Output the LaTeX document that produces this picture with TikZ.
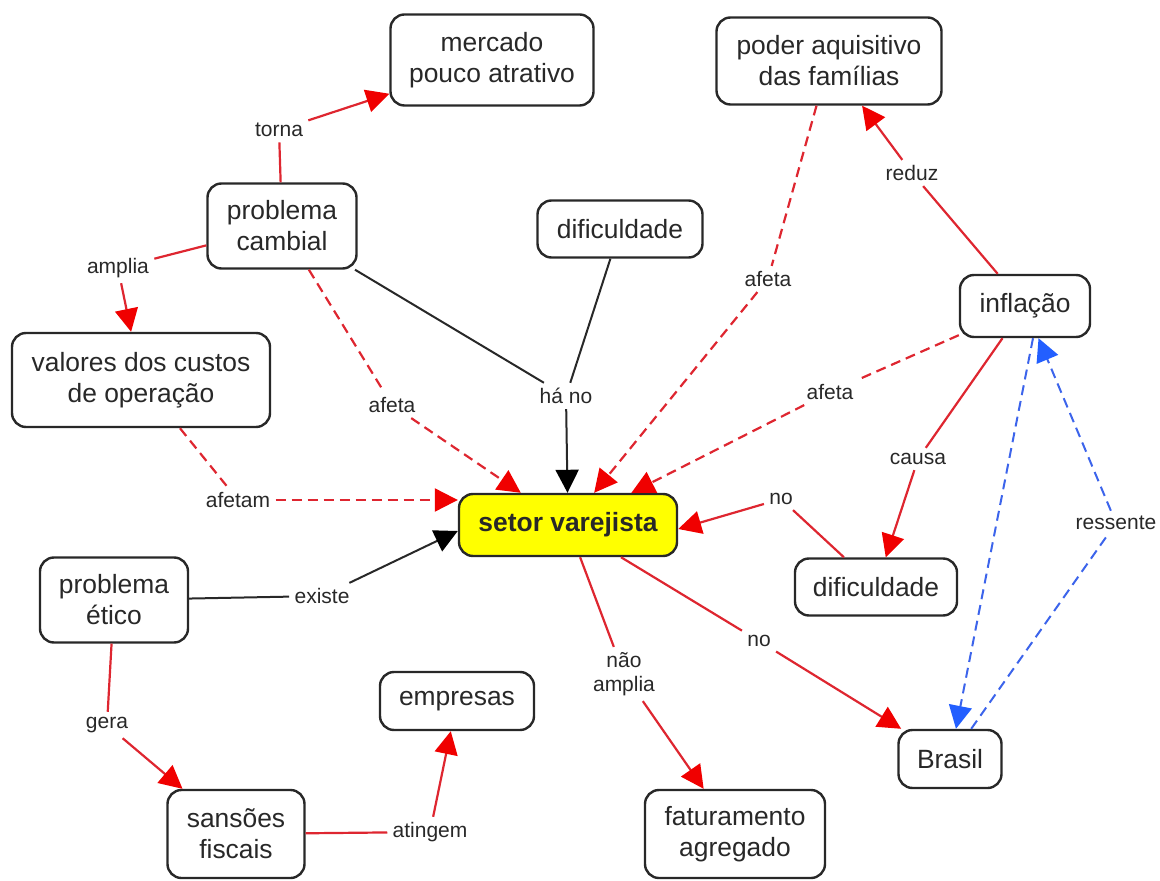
\documentclass[tikz,border=0pt]{standalone}
\usepackage{fontspec}
\setmainfont{Liberation Sans}
\usetikzlibrary{arrows.meta}
\definecolor{lnred}{RGB}{222,38,48}
\definecolor{tipred}{RGB}{240,0,0}
\definecolor{lnblue}{RGB}{60,100,235}
\definecolor{tipblue}{RGB}{35,95,255}
\definecolor{ink}{RGB}{40,40,40}
\definecolor{hilite}{RGB}{255,255,0}
\begin{document}
\begin{tikzpicture}[x=0.5pt,y=-0.5pt,
  concept/.style={draw=ink, line width=1.2pt, rounded corners=7pt, fill=white, align=center,
    inner sep=0pt, font=\fontsize{13.2}{15.5}\selectfont, text=ink},
  phrase/.style={font=\fontsize{10.5}{12}\selectfont, text=ink, inner sep=2.5pt, align=center},
  rl/.style={draw=lnred, line width=1.1pt},
  rarr/.style={rl, -{Triangle[length=11.5pt,width=11.5pt,color=tipred]}},
  rdl/.style={rl, dash pattern=on 5pt off 3pt},
  rdarr/.style={rdl, -{Triangle[length=11.5pt,width=11.5pt,color=tipred]}},
  kl/.style={draw=ink, line width=1pt},
  karr/.style={kl, -{Triangle[length=11.5pt,width=11.5pt,color=black]}},
  bdarr/.style={draw=lnblue, line width=1pt, dash pattern=on 5pt off 3pt, -{Triangle[length=11.5pt,width=11.5pt,color=tipblue]}},
  bdl/.style={draw=lnblue, line width=1pt, dash pattern=on 5pt off 3pt}
]
\useasboundingbox (0,0) rectangle (1160,881);

% concepts
\node[concept, minimum width=101.5pt, minimum height=45.5pt] (mercado) at (492,60) {mercado\\pouco atrativo};
\node[concept, minimum width=112.5pt, minimum height=43.5pt] (poder) at (829,61) {poder aquisitivo\\das famílias};
\node[concept, minimum width=74.5pt, minimum height=42.5pt] (cambial) at (282,226) {problema\\cambial};
\node[concept, minimum width=82.5pt, minimum height=28.5pt] (dificA) at (620,229) {dificuldade};
\node[concept, minimum width=65pt, minimum height=31pt] (inflacao) at (1025,306) {inflação};
\node[concept, minimum width=129pt, minimum height=47pt] (valores) at (141,380) {valores dos custos\\de operação};
\node[concept, minimum width=109pt, minimum height=31pt, fill=hilite, font=\fontsize{13.2}{15.5}\selectfont\bfseries] (setor) at (568,525) {setor varejista};
\node[concept, minimum width=81pt, minimum height=28.5pt] (dificB) at (876,587) {dificuldade};
\node[concept, minimum width=74pt, minimum height=42.5pt] (etico) at (114,600) {problema\\ético};
\node[concept, minimum width=77pt, minimum height=29pt] (empresas) at (457,701) {empresas};
\node[concept, minimum width=51.5pt, minimum height=29pt] (brasil) at (950,759) {Brasil};
\node[concept, minimum width=68.5pt, minimum height=44pt] (sansoes) at (236,834) {sansões\\fiscais};
\node[concept, minimum width=90pt, minimum height=44pt] (faturamento) at (735,834) {faturamento\\agregado};

% linking phrases
\node[phrase] (torna) at (279,130) {torna};
\node[phrase] (amplia) at (118,268) {amplia};
\node[phrase] (afetaA) at (392,405) {afeta};
\node[phrase] (hano) at (566,396) {há no};
\node[phrase] (afetaB) at (768,279) {afeta};
\node[phrase] (afetaC) at (830,392) {afeta};
\node[phrase] (reduz) at (912,173) {reduz};
\node[phrase] (causa) at (918,459) {causa};
\node[phrase] (noA) at (781,499) {no};
\node[phrase] (ressente) at (1116,523) {ressente};
\node[phrase] (afetam) at (238,500) {afetam};
\node[phrase] (existe) at (322,596) {existe};
\node[phrase] (naoamplia) at (624,674) {não\\amplia};
\node[phrase] (noB) at (759,641) {no};
\node[phrase] (gera) at (107,725) {gera};
\node[phrase] (atingem) at (430,832) {atingem};

% connectors
\draw[rl] (cambial) -- (torna);
\draw[rarr] (torna) -- (mercado);
\draw[rl] (cambial) -- (amplia);
\draw[rarr] (amplia) -- (valores);
\draw[rdl] (cambial) -- (afetaA);
\draw[rdarr] (afetaA) -- (setor);
\draw[kl] (cambial) -- (hano);
\draw[kl] (dificA) -- (hano);
\draw[karr] (hano) -- (setor);
\draw[rdl] (poder) -- (afetaB);
\draw[rdarr] (afetaB) -- (setor);
\draw[rl] (inflacao) -- (reduz);
\draw[rarr] (reduz) -- (poder);
\draw[rdl] (inflacao) -- (afetaC);
\draw[rdarr] (afetaC) -- (setor);
\draw[rl] (inflacao) -- (causa);
\draw[rarr] (causa) -- (dificB);
\draw[rl] (dificB) -- (noA);
\draw[rarr] (noA) -- ([yshift=-2pt]setor.east);
\draw[bdarr] ([xshift=4pt]inflacao.south) -- (brasil);
\draw[bdl] (brasil) -- (ressente);
\draw[bdarr] (ressente) -- (inflacao);
\draw[rdl] (valores) -- (afetam);
\draw[rdarr] (afetam) -- (afetam -| setor.west);
\draw[kl] (etico) -- (existe);
\draw[karr] (existe) -- ([yshift=-3pt]setor.west);
\draw[rl] (setor) -- (naoamplia);
\draw[rarr] (naoamplia) -- (faturamento);
\draw[rl] (setor) -- (noB);
\draw[rarr] (noB) -- (brasil);
\draw[rl] (etico) -- (gera);
\draw[rarr] (gera) -- (sansoes);
\draw[rl] (sansoes) -- (atingem);
\draw[rarr] (atingem) -- (empresas);
\end{tikzpicture}
\end{document}
